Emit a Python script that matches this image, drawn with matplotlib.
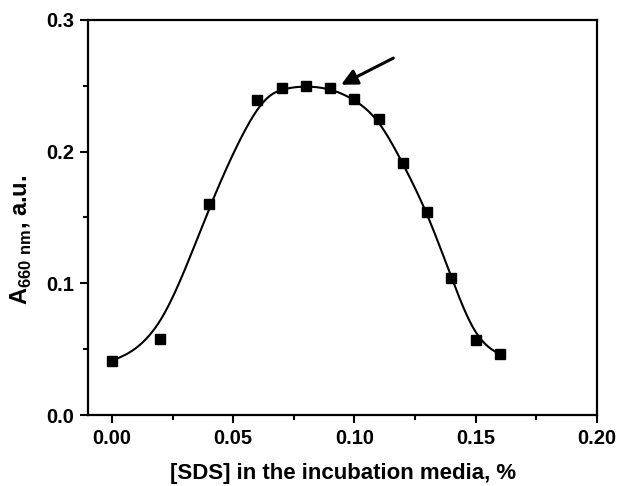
import numpy as np
import matplotlib
matplotlib.use("Agg")
import matplotlib.pyplot as plt
from matplotlib.ticker import MultipleLocator

# ---- data ----
sds = [0.00, 0.02, 0.04, 0.06, 0.07, 0.08, 0.09, 0.10, 0.11, 0.12, 0.13, 0.14, 0.15, 0.16]
absorb = [0.041, 0.058, 0.160, 0.239, 0.248, 0.250, 0.248, 0.240, 0.225, 0.191, 0.154, 0.104, 0.057, 0.046]

x_ticks = [0.00, 0.05, 0.10, 0.15, 0.20]
x_tick_labels = ["0.00", "0.05", "0.10", "0.15", "0.20"]
y_ticks = [0.0, 0.1, 0.2, 0.3]
y_tick_labels = ["0.0", "0.1", "0.2", "0.3"]

# arrow marks the point at 0.09 %
arrow_tip = (0.0945, 0.2508)
arrow_tail = (0.1160, 0.2710)


def bspline(xs, ys, n=40):
    # clamped uniform cubic B-spline, points used as control points
    px = np.r_[[xs[0]] * 2, xs, [xs[-1]] * 2]
    py = np.r_[[ys[0]] * 2, ys, [ys[-1]] * 2]
    t = np.linspace(0, 1, n)
    b0 = (1 - t) ** 3 / 6
    b1 = (3 * t ** 3 - 6 * t ** 2 + 4) / 6
    b2 = (-3 * t ** 3 + 3 * t ** 2 + 3 * t + 1) / 6
    b3 = t ** 3 / 6
    cx, cy = [], []
    for i in range(len(px) - 3):
        cx.append(b0 * px[i] + b1 * px[i + 1] + b2 * px[i + 2] + b3 * px[i + 3])
        cy.append(b0 * py[i] + b1 * py[i + 1] + b2 * py[i + 2] + b3 * py[i + 3])
    return np.concatenate(cx), np.concatenate(cy)


plt.rcParams['font.family'] = ['Liberation Sans', 'DejaVu Sans']
plt.rcParams['font.weight'] = 'bold'
plt.rcParams['mathtext.fontset'] = 'custom'
plt.rcParams['mathtext.rm'] = 'Liberation Sans:bold'
plt.rcParams['mathtext.bf'] = 'Liberation Sans:bold'

fig = plt.figure(figsize=(6.44, 4.86), dpi=100)
ax = fig.add_axes([0.137, 0.146, 0.790, 0.813])

cx, cy = bspline(np.array(sds), np.array(absorb))
ax.plot(cx, cy, color='black', lw=1.5, zorder=2)
ax.plot(sds, absorb, 's', color='black', ms=6.5, zorder=3)

ax.annotate('', xy=arrow_tip, xytext=arrow_tail,
            arrowprops=dict(arrowstyle='-|>', color='black', lw=2.2,
                            mutation_scale=24, shrinkA=0, shrinkB=0))

ax.set_xlim(-0.0098, 0.20)
ax.set_ylim(0.0, 0.3)
ax.set_xticks(x_ticks)
ax.set_xticklabels(x_tick_labels)
ax.set_yticks(y_ticks)
ax.set_yticklabels(y_tick_labels)
ax.xaxis.set_minor_locator(MultipleLocator(0.025))
ax.yaxis.set_minor_locator(MultipleLocator(0.05))

ax.tick_params(which='major', direction='out', length=6, width=1.5,
               labelsize=14.5, pad=4)
ax.tick_params(which='minor', direction='out', length=3.5, width=1.5)
for s in ax.spines.values():
    s.set_linewidth(1.6)

ax.set_xlabel('[SDS] in the incubation media, %', fontsize=16, fontweight='bold', labelpad=11)
ax.set_ylabel(r'A$_{\mathbf{660\ nm}}$, a.u.', fontsize=17, fontweight='bold')
ax.yaxis.set_label_coords(-0.106, 0.443)

fig.savefig('out.png', dpi=100)
